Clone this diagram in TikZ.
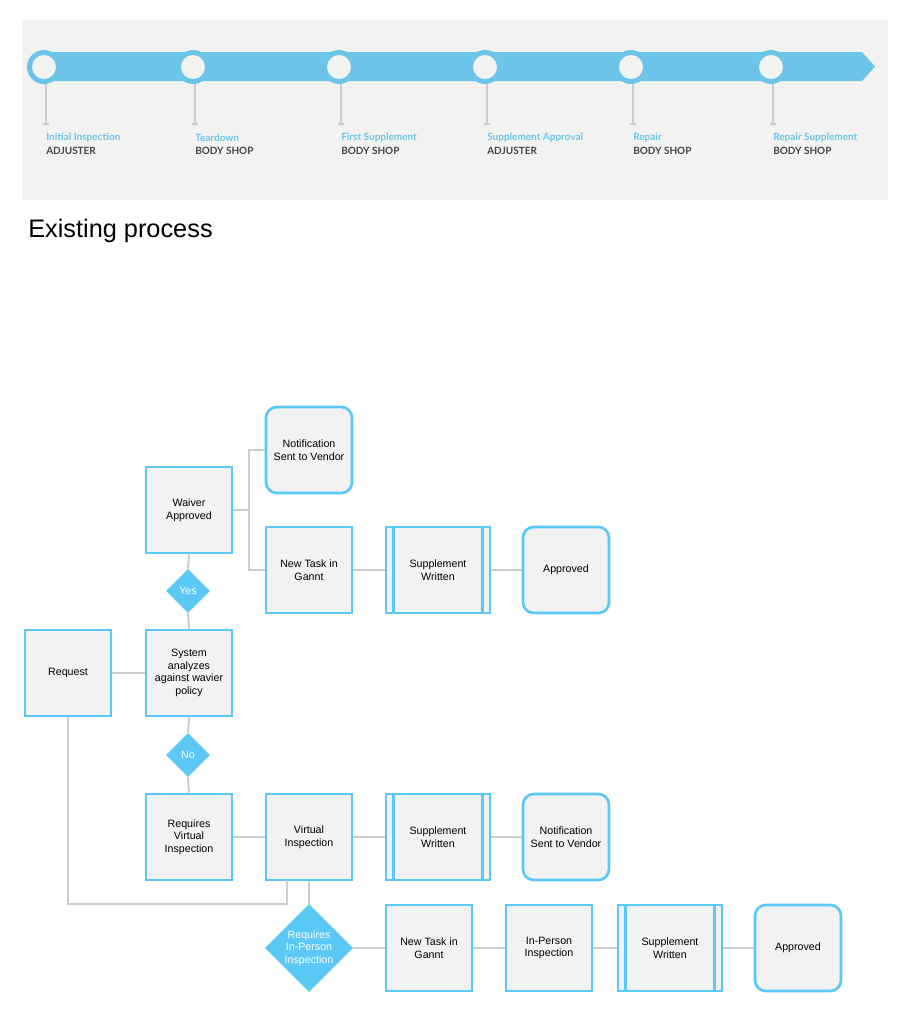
\documentclass[tikz,border=0pt]{standalone}
\usepackage{fontspec}
\setmainfont{Liberation Sans}
\newfontfamily\tlfont{Lato}
\usetikzlibrary{shapes.geometric}
\definecolor{bl}{HTML}{5BC8F5}
\definecolor{bar}{HTML}{6CC5E8}
\definecolor{bx}{HTML}{F2F2F2}
\definecolor{ln}{HTML}{CCCCCC}
\definecolor{bg}{HTML}{F2F2F0}
\definecolor{dk}{HTML}{444444}
\begin{document}
\begin{tikzpicture}[x=0.75pt,y=-0.75pt,
 box/.style={draw=bl,line width=2pt,fill=bx,minimum width=64.5pt,minimum height=64.5pt,inner sep=0pt,align=center,font=\fontsize{8}{9.5}\selectfont},
 rbox/.style={box,rounded corners=8pt},
 wbox/.style={box,minimum width=78pt},
 dia/.style={diamond,fill=bl,text=white,inner sep=0pt,align=center,font=\fontsize{8}{9.5}\selectfont},
 con/.style={draw=ln,line width=1.5pt},
 tl/.style={anchor=west,font=\tlfont\bfseries\fontsize{7.5}{9}\selectfont,inner sep=0pt}]
\useasboundingbox (0,0) rectangle (898,1022);
% timeline
\fill[bg] (22,20) rectangle (888,200);
\fill[bar] (44,52) -- (862,52) -- (875,66.5) -- (862,81) -- (44,81) -- cycle;
\foreach \x/\a/\b [count=\i] in {44/Initial Inspection/ADJUSTER,193/Teardown/BODY SHOP,339/First Supplement/BODY SHOP,485/Supplement Approval/ADJUSTER,631/Repair/BODY SHOP,771/Repair Supplement/BODY SHOP}{
 \draw[ln,line width=0.8pt] (\x+2,84) -- (\x+2,124);
 \draw[ln,line width=0.8pt] (\x-1,124) -- (\x+5,124);
 \fill[bar] (\x,67) circle[radius=17];
 \fill[bg] (\x,67) circle[radius=12];
 \node[tl,text=bar] (ta\i) at (\x+2,138) {\a};
 \node[tl,text=dk] (tb\i) at (\x+2,151) {\b};
}
\node[anchor=west,inner sep=0pt,font=\fontsize{19}{22}\selectfont] (title) at (28,231) {Existing process};
% flowchart nodes
\node[box] (waiver) at (189,510) {Waiver\\Approved};
\node[rbox] (notif1) at (309,450) {Notification\\Sent to Vendor};
\node[box] (task1) at (309,570) {New Task in\\Gannt};
\node[wbox] (sup1) at (438,570) {Supplement\\Written};
\node[rbox] (appr1) at (566,570) {Approved};
\node[dia,minimum width=33pt,minimum height=33pt] (yes) at (188,591) {Yes};
\node[box] (req) at (68,673) {Request};
\node[box] (sys) at (189,673) {System\\analyzes\\against wavier\\policy};
\node[dia,minimum width=33pt,minimum height=33pt] (no) at (188,755) {No};
\node[box] (rvi) at (189,837) {Requires\\Virtual\\Inspection};
\node[box] (vi) at (309,837) {Virtual\\Inspection};
\node[wbox] (sup2) at (438,837) {Supplement\\Written};
\node[rbox] (notif2) at (566,837) {Notification\\Sent to Vendor};
\node[dia,minimum width=66pt,minimum height=66pt] (ipi) at (309,948) {Requires\\In-Person\\Inspection};
\node[box] (task2) at (429,948) {New Task in\\Gannt};
\node[box] (ip) at (549,948) {In-Person\\Inspection};
\node[wbox] (sup3) at (670,948) {Supplement\\Written};
\node[rbox] (appr2) at (798,948) {Approved};
\foreach \n in {sup1,sup2,sup3}{
 \draw[bl,line width=2pt] ([xshift=6.75pt]\n.north west) -- ([xshift=6.75pt]\n.south west);
 \draw[bl,line width=2pt] ([xshift=-6.75pt]\n.north east) -- ([xshift=-6.75pt]\n.south east);
}
% connectors
\begin{scope}[on background layer/.style={}]
\end{scope}
\coordinate (j1) at (249,510);
\draw[con] (waiver.east) -- (j1);
\draw[con] (notif1.west) -| (249,570) -- (task1.west);
\draw[con] (task1) -- (sup1);
\draw[con] (sup1) -- (appr1);
\draw[con] (waiver.south) -- (yes.north);
\draw[con] (yes.south) -- (sys.north);
\draw[con] (req) -- (sys);
\draw[con] (sys.south) -- (no.north);
\draw[con] (no.south) -- (rvi.north);
\draw[con] (rvi) -- (vi);
\draw[con] (vi) -- (sup2);
\draw[con] (sup2) -- (notif2);
\draw[con] (req.south) |- (287,904) -- (287,880);
\draw[con] (vi.south) -- (ipi.north);
\draw[con] (ipi) -- (task2);
\draw[con] (task2) -- (ip);
\draw[con] (ip) -- (sup3);
\draw[con] (sup3) -- (appr2);
\end{tikzpicture}
\end{document}
